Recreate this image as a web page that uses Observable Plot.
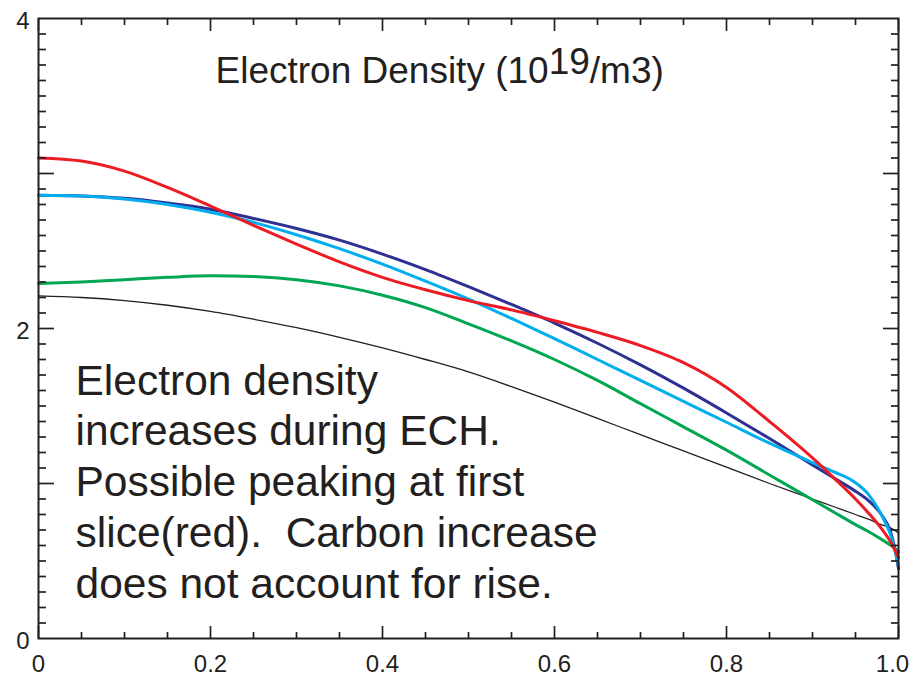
<!DOCTYPE html>
<html><head><meta charset="utf-8">
<script src="https://cdn.jsdelivr.net/npm/d3@7"></script>
<script src="https://cdn.jsdelivr.net/npm/@observablehq/plot@0.6"></script>
<style>html,body{margin:0;padding:0;background:#fff;}</style>
</head><body><div id="chart"></div>
<script>
// Normalised radius (shared x grid)
const rho = [0, 0.05, 0.1, 0.15, 0.2, 0.25, 0.3, 0.35, 0.4, 0.45, 0.5, 0.55, 0.6, 0.65, 0.7, 0.75, 0.8, 0.85, 0.9, 0.925, 0.95, 0.965, 0.98, 0.99, 0.995, 1.0];
// Electron density profiles (10^19 / m^3)
const neBlack = [2.21, 2.20, 2.18, 2.15, 2.11, 2.06, 2.005, 1.943, 1.875, 1.80, 1.72, 1.625, 1.525, 1.42, 1.315, 1.21, 1.105, 1.00, 0.90, 0.85, 0.80, 0.77, 0.735, 0.715, 0.70, 0.68];
const neGreen = [2.29, 2.30, 2.315, 2.33, 2.34, 2.335, 2.315, 2.275, 2.215, 2.135, 2.03, 1.92, 1.80, 1.665, 1.515, 1.365, 1.215, 1.055, 0.895, 0.815, 0.735, 0.69, 0.64, 0.605, 0.585, 0.56];
const neNavy  = [2.86, 2.855, 2.84, 2.81, 2.77, 2.71, 2.645, 2.57, 2.48, 2.38, 2.27, 2.155, 2.035, 1.905, 1.765, 1.615, 1.455, 1.29, 1.12, 1.035, 0.95, 0.89, 0.80, 0.70, 0.60, 0.45];
const neCyan  = [2.86, 2.855, 2.835, 2.80, 2.75, 2.685, 2.605, 2.515, 2.415, 2.305, 2.19, 2.065, 1.935, 1.80, 1.665, 1.53, 1.395, 1.26, 1.135, 1.075, 1.005, 0.93, 0.80, 0.68, 0.59, 0.47];
const neRed   = [3.10, 3.08, 3.015, 2.91, 2.79, 2.665, 2.545, 2.43, 2.33, 2.25, 2.18, 2.12, 2.05, 1.975, 1.89, 1.78, 1.62, 1.40, 1.165, 1.035, 0.90, 0.81, 0.71, 0.63, 0.58, 0.52];

// Axis ticks and labels
const xTickValues = [0, 0.2, 0.4, 0.6, 0.8, 1.0];
const xTickLabels = ["0", "0.2", "0.4", "0.6", "0.8", "1.0"];
const xMinorTicks = [0.05, 0.1, 0.15, 0.25, 0.3, 0.35, 0.45, 0.5, 0.55, 0.65, 0.7, 0.75, 0.85, 0.9, 0.95];
const yTickValues = [0, 2, 4];
const yTickLabels = ["0", "2", "4"];
const yMajorTicks = [1, 2, 3];
const yMinorTicks = [0.1,0.2,0.3,0.4,0.5,0.6,0.7,0.8,0.9,1.1,1.2,1.3,1.4,1.5,1.6,1.7,1.8,1.9,2.1,2.2,2.3,2.4,2.5,2.6,2.7,2.8,2.9,3.1,3.2,3.3,3.4,3.5,3.6,3.7,3.8,3.9];

// Text
const titleParts = ["Electron Density (10", "19", "/m3)"];
const noteLines = ["Electron density", "increases during ECH.", "Possible peaking at first", "slice(red).\u00a0 Carbon increase", "does not account for rise."];

const series = [
  {name: "black", values: neBlack, color: "#231f20", width: 1.3},
  {name: "green", values: neGreen, color: "#00a651", width: 3},
  {name: "navy",  values: neNavy,  color: "#2e3192", width: 3},
  {name: "cyan",  values: neCyan,  color: "#00aeef", width: 3},
  {name: "red",   values: neRed,   color: "#ed1c24", width: 3}
];

const ink = "#231f20";
const lineMarks = series.map(s =>
  Plot.line(rho.map((r, i) => ({rho: r, ne: s.values[i]})), {
    x: "rho", y: "ne", stroke: s.color, strokeWidth: s.width, curve: "monotone-x"
  })
);

const tickStyle = {stroke: ink, fill: "none", strokeWidth: 1.7, label: null};
const xFmt = d => xTickLabels[xTickValues.indexOf(d)];
const yFmt = d => yTickLabels[yTickValues.indexOf(d)];

const chart = Plot.plot({
  width: 913,
  height: 675,
  marginLeft: 38,
  marginRight: 15,
  marginTop: 18,
  marginBottom: 37,
  style: {fontFamily: "'Liberation Sans', Arial, Helvetica, sans-serif", background: "#fff", color: ink, overflow: "visible"},
  x: {domain: [0, 1], axis: null},
  y: {domain: [0, 4], axis: null},
  marks: [
    ...lineMarks,
    // inward ticks, bottom & top
    Plot.axisX(xTickValues, {anchor: "bottom", tickSize: 12, insetBottom: 12, ...tickStyle}),
    Plot.axisX(xMinorTicks, {anchor: "bottom", tickSize: 6, insetBottom: 6, ...tickStyle}),
    Plot.axisX(xTickValues, {anchor: "top", tickSize: 12, insetTop: 12, ...tickStyle}),
    Plot.axisX(xMinorTicks, {anchor: "top", tickSize: 6, insetTop: 6, ...tickStyle}),
    // inward ticks, left & right
    Plot.axisY(yMajorTicks, {anchor: "left", tickSize: 16, insetLeft: 16, ...tickStyle}),
    Plot.axisY(yMinorTicks, {anchor: "left", tickSize: 8, insetLeft: 8, ...tickStyle}),
    Plot.axisY(yMajorTicks, {anchor: "right", tickSize: 16, insetRight: 16, ...tickStyle}),
    Plot.axisY(yMinorTicks, {anchor: "right", tickSize: 8, insetRight: 8, ...tickStyle}),
    // tick labels
    Plot.axisX(xTickValues.slice(0, 5), {anchor: "bottom", tickSize: 0, tickPadding: 16, fontSize: 24, tickFormat: xFmt, label: null, fill: ink}),
    Plot.axisX(xTickValues.slice(5), {anchor: "bottom", tickSize: 0, tickPadding: 16, fontSize: 24, tickFormat: xFmt, label: null, fill: ink, dx: -6}),
    Plot.axisY(yTickValues, {anchor: "left", tickSize: 0, tickPadding: 9, fontSize: 24, tickFormat: yFmt, label: null, fill: ink, dy: 3}),
    Plot.frame({stroke: ink, strokeWidth: 2}),
    // title inside the frame
    Plot.text([titleParts.join("")], {
      frameAnchor: "top-left", dx: 177, dy: 64, text: d => d,
      textAnchor: "start", lineAnchor: "bottom", fontSize: 37, fill: ink
    }),
    // annotation
    Plot.text([noteLines.join("\n")], {
      frameAnchor: "top-left", dx: 37, dy: 579, text: d => d,
      textAnchor: "start", lineAnchor: "bottom", lineHeight: 1.194, fontSize: 42.5, fill: ink
    })
  ]
});

// Raise the exponent in the title as in the original
const full = titleParts.join("");
const t = Array.from(chart.querySelectorAll("text")).find(el => el.textContent === full);
if (t) {
  t.textContent = "";
  const ns = "http://www.w3.org/2000/svg";
  titleParts.forEach((s, i) => {
    const ts = document.createElementNS(ns, "tspan");
    ts.textContent = s;
    if (i === 1) ts.setAttribute("dy", "-9");
    if (i === 2) ts.setAttribute("dy", "9");
    t.appendChild(ts);
  });
}
document.getElementById("chart").appendChild(chart);
</script>
</body></html>
